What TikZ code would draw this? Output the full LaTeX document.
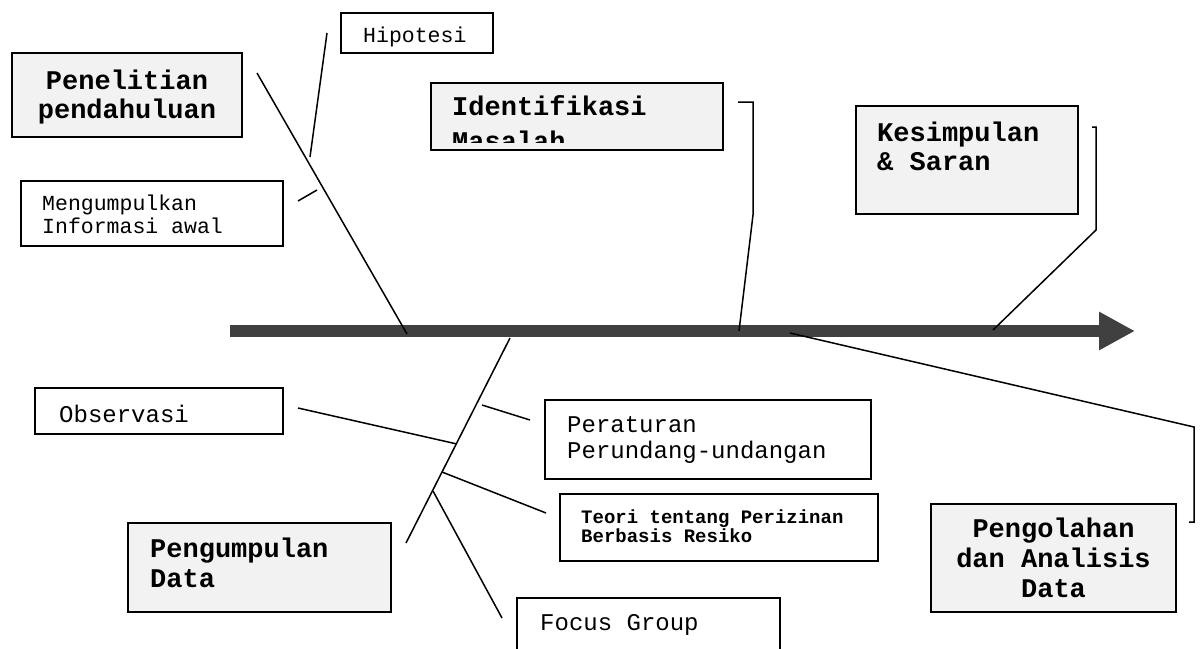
\documentclass[tikz,border=0pt]{standalone}
\usepackage{fontspec}
\setmonofont{Liberation Mono}
\usetikzlibrary{arrows.meta, positioning, calc}
\definecolor{spinegray}{RGB}{64,64,64}
\definecolor{boxgray}{RGB}{242,242,242}
\newcommand{\headfont}{\ttfamily\bfseries\fontsize{27}{29}\selectfont}
\newcommand{\itemfont}{\ttfamily\fontsize{24}{26}\selectfont}
\newcommand{\notefont}{\ttfamily\fontsize{21.5}{23}\selectfont}
\newcommand{\smallhead}{\ttfamily\bfseries\fontsize{19}{19}\selectfont}

\begin{document}
\begin{tikzpicture}[
  x=1pt, y=-1pt,
  box/.style={rectangle, draw=black, line width=1.6pt, fill=white,
    anchor=north west, inner sep=0pt, outer sep=0pt},
  graybox/.style={box, fill=boxgray},
  txt/.style={anchor=base west, inner sep=0pt, align=left},
  ctxt/.style={anchor=base, inner sep=0pt, align=center},
  bone/.style={draw=black, line width=1.5pt},
  spine/.style={draw=spinegray, line width=12pt, -{Triangle[length=36pt, width=36pt]}}
]
\clip (0,0) rectangle (1201,648);

% ---- boxes (fixed positions) ----
\node[graybox, minimum width=230, minimum height=84]  (pen)   at (12,53)   {};
\node[box,     minimum width=152, minimum height=40]  (hip)   at (341,13)  {};
\node[box,     minimum width=262, minimum height=65]  (meng)  at (21,181)  {};
\node[graybox, minimum width=292, minimum height=67]  (ident) at (431,83)  {};
\node[graybox, minimum width=222, minimum height=108] (kes)   at (856,106) {};
\node[box,     minimum width=248, minimum height=46]  (obs)   at (35,388)  {};
\node[box,     minimum width=326, minimum height=79]  (per)   at (545,400) {};
\node[box,     minimum width=318, minimum height=67]  (teori) at (560,494) {};
\node[graybox, minimum width=263, minimum height=89]  (kumpul) at (128,523) {};
\node[box,     minimum width=263, minimum height=90]  (focus) at (517,598) {};
\node[graybox, minimum width=245, minimum height=108] (olah)  at (931,504) {};

% ---- texts (anchored on the baseline of the last line) ----
\node[ctxt, font=\headfont] (pen-t)   at (127,118) {Penelitian\\pendahuluan};
\node[txt,  font=\notefont] (hip-t)   at (363,42)  {Hipotesi};
\node[txt,  font=\notefont] (meng-t)  at (42,233)  {Mengumpulkan\\Informasi awal};
\begin{scope}
  \clip (431,83) rectangle (723,142);
  \node[txt, font=\headfont] (ident-t) at (452,150) {Identifikasi\\[6pt]Masalah};
\end{scope}
\node[txt,  font=\headfont] (kes-t)   at (877,170) {Kesimpulan\\\& Saran};
\node[txt,  font=\itemfont] (obs-t)   at (59,422)  {Observasi};
\node[txt,  font=\itemfont] (per-t)   at (567,458) {Peraturan\\Perundang-undangan};
\node[txt,  font=\smallhead] (teori-t) at (581,542) {Teori tentang Perizinan\\Berbasis Resiko};
\node[txt,  font=\headfont] (kumpul-t) at (150,587) {Pengumpulan\\[1pt]Data};
\node[txt,  font=\itemfont] (focus-t) at (540,630) {Focus Group};
\node[ctxt, font=\headfont] (olah-t)  at (1053.5,597) {Pengolahan\\[1pt]dan Analisis\\[1pt]Data};

% ---- spine ----
\coordinate (spL) at (230,331);
\coordinate (spR) at (1135,331);
\draw[spine] (spL) -- (spR);

% ---- bones: free ends near the boxes, other end on spine or bone ----
\coordinate (penA)   at (257,73);   \coordinate (penB)   at (407,334);
\coordinate (hipA)   at (327,33);   \coordinate (hipB)   at (310,157);
\coordinate (mengA)  at (298,201);  \coordinate (mengB)  at (317,190);
\coordinate (idA)    at (738,102);  \coordinate (idB)    at (739,331);
\coordinate (kesA)   at (1092,127); \coordinate (kesB)   at (993,330);
\coordinate (olahA)  at (790,333);  \coordinate (olahB)  at (1189,522);
\coordinate (kumA)   at (510,338);  \coordinate (kumB)   at (406,543);
\coordinate (obsA)   at (298,408);  \coordinate (obsB)   at (457,444);
\coordinate (perA)   at (482,405);  \coordinate (perB)   at (530,420);
\coordinate (teoA)   at (442,472);  \coordinate (teoB)   at (546,513);
\coordinate (focA)   at (433,491);  \coordinate (focB)   at (502,618);

\draw[bone] (penA) -- (penB);
\draw[bone] (hipA) -- (hipB);
\draw[bone] (mengA) -- (mengB);
\draw[bone] (idA) -- ++(15,0) -- ++(0,113) -- (idB);
\draw[bone] (kesA) -- ++(4,0) -- ++(0,103) -- (kesB);
\draw[bone] (olahA) -- (1194,427) |- (olahB);
\draw[bone] (kumA) -- (kumB);
\draw[bone] (obsA) -- (obsB);
\draw[bone] (perA) -- (perB);
\draw[bone] (teoA) -- (teoB);
\draw[bone] (focA) -- (focB);

\end{tikzpicture}
\end{document}
